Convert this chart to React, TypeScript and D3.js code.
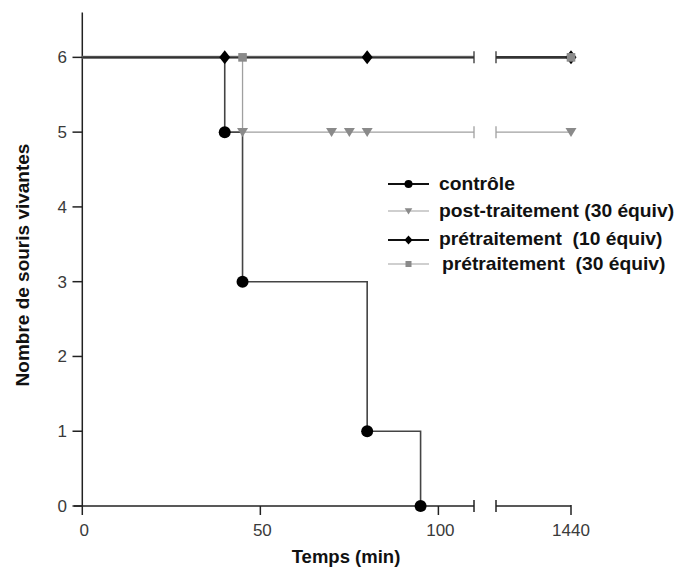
import React from "react";
import * as d3 from "d3";

// ---- data ----
const yTicks = [0, 1, 2, 3, 4, 5, 6];
const xTicksMain = [0, 50, 100];
const xTicksLate = [1440];

const controlTimes = [0, 40, 45, 80, 95];
const controlValues = [6, 5, 3, 1, 0];
const controlMarkTimes = [40, 45, 80, 95];
const controlMarkValues = [5, 3, 1, 0];

const postTimes = [0, 45];
const postValues = [6, 5];
const postMarkTimes = [45, 70, 75, 80, 1440];
const postMarkValues = [5, 5, 5, 5, 5];

const pre10Times = [0];
const pre10Values = [6];
const pre10MarkTimes = [40, 80, 1440];
const pre10MarkValues = [6, 6, 6];

const pre30Times = [0];
const pre30Values = [6];
const pre30MarkTimes = [45, 1440];
const pre30MarkValues = [6, 6];

const legendLabels = [
  "contrôle",
  "post-traitement (30 équiv)",
  "prétraitement  (10 équiv)",
  "prétraitement  (30 équiv)",
];

const mainEnd = 110;
const lateStart = 1418;
const lateEnd = 1440;

// ---- layout ----
const W = 678;
const H = 569;
const xMain = d3.scaleLinear().domain([0, mainEnd]).range([82.3, 474]);
const xLate = d3.scaleLinear().domain([lateStart, lateEnd]).range([496, 571]);
const y = d3.scaleLinear().domain([0, 6.6]).range([506, 12.5]);
const xAny = (t: number) => (t <= mainEnd ? xMain(t) : xLate(t));

const GRAY = "#8a8a8a";
const LGRAY = "#a0a0a0";

function stepPath(times: number[], values: number[], end: number) {
  const pts: [number, number][] = times.map((t, i) => [t, values[i]]);
  pts.push([end, values[values.length - 1]]);
  const line = d3
    .line<[number, number]>()
    .x((d) => xMain(d[0]))
    .y((d) => y(d[1]))
    .curve(d3.curveStepAfter);
  return line(pts) || "";
}

function Circle({ cx, cy, r }: { cx: number; cy: number; r: number }) {
  return <circle cx={cx} cy={cy} r={r} fill="#000" />;
}
function Tri({ cx, cy, s, fill }: { cx: number; cy: number; s: number; fill: string }) {
  const p = d3.path();
  p.moveTo(cx - s, cy - s * 0.75);
  p.lineTo(cx + s, cy - s * 0.75);
  p.lineTo(cx, cy + s * 0.9);
  p.closePath();
  return <path d={p.toString()} fill={fill} />;
}
function Diamond({ cx, cy, w, h, fill }: { cx: number; cy: number; w: number; h: number; fill: string }) {
  const p = d3.path();
  p.moveTo(cx, cy - h);
  p.lineTo(cx + w, cy);
  p.lineTo(cx, cy + h);
  p.lineTo(cx - w, cy);
  p.closePath();
  return <path d={p.toString()} fill={fill} />;
}
function Square({ cx, cy, s, fill }: { cx: number; cy: number; s: number; fill: string }) {
  return <rect x={cx - s} y={cy - s} width={2 * s} height={2 * s} fill={fill} />;
}

function BrokenLine({ v, color, width }: { v: number; color: string; width: number }) {
  const yy = y(v);
  return (
    <g stroke={color} strokeWidth={width} fill="none">
      <line x1={xMain(mainEnd)} x2={xMain(mainEnd)} y1={yy - 6} y2={yy + 6} strokeWidth={1.3} />
      <line x1={xLate(lateStart)} x2={xLate(lateStart)} y1={yy - 6} y2={yy + 6} strokeWidth={1.3} />
      <line x1={xLate(lateStart)} x2={xLate(lateEnd)} y1={yy} y2={yy} />
    </g>
  );
}

export default function App() {
  const font = "'Liberation Sans', Arial, sans-serif";
  const legendY = [184, 211, 240, 264];
  const legendText = [190, 217, 245, 270];
  return (
    <svg width={W} height={H} style={{ position: "absolute", left: 0, top: 0, background: "#fff" }} fontFamily={font}>
      <rect width={W} height={H} fill="#fff" />
      {/* axes */}
      <g stroke="#222" strokeWidth={1.5} fill="none">
        <line x1={xMain(0)} x2={xMain(0)} y1={y(6.6)} y2={y(0)} />
        {yTicks.map((t) => (
          <line key={"yt" + t} x1={72.5} x2={xMain(0)} y1={y(t)} y2={y(t)} />
        ))}
        <line x1={74} x2={xMain(mainEnd)} y1={y(0)} y2={y(0)} />
        <line x1={xMain(mainEnd)} x2={xMain(mainEnd)} y1={y(0) - 6} y2={y(0) + 6} />
        <line x1={xLate(lateStart)} x2={xLate(lateEnd)} y1={y(0)} y2={y(0)} />
        <line x1={xLate(lateStart)} x2={xLate(lateStart)} y1={y(0) - 6} y2={y(0) + 6} />
        {xTicksMain.map((t) => (
          <line key={"xt" + t} x1={xMain(t)} x2={xMain(t)} y1={y(0)} y2={y(0) + 9} />
        ))}
        {xTicksLate.map((t) => (
          <line key={"xl" + t} x1={xLate(t)} x2={xLate(t)} y1={y(0) - 1} y2={y(0) + 9} />
        ))}
      </g>
      <g fill="#3a3a3a" fontSize={17}>
        {yTicks.map((t) => (
          <text key={"yl" + t} x={67} y={y(t) + 6} textAnchor="end">
            {t}
          </text>
        ))}
        {xTicksMain.map((t) => (
          <text key={"xlab" + t} x={xMain(t) + 2} y={536} textAnchor="middle">
            {t}
          </text>
        ))}
        {xTicksLate.map((t) => (
          <text key={"xll" + t} x={xLate(t)} y={536} textAnchor="middle">
            {t}
          </text>
        ))}
      </g>
      <text x={346} y={563} textAnchor="middle" fontWeight="bold" fontSize={18.5} fill="#111">
        Temps (min)
      </text>
      <text
        transform={`translate(28.5,265) rotate(-90)`}
        textAnchor="middle"
        fontWeight="bold"
        fontSize={19}
        fill="#111"
      >
        Nombre de souris vivantes
      </text>

      {/* series lines */}
      <path d={stepPath(pre30Times, pre30Values, mainEnd)} stroke={GRAY} strokeWidth={3} fill="none" />
      <path d={stepPath(postTimes, postValues, mainEnd)} stroke={LGRAY} strokeWidth={1.3} fill="none" />
      <BrokenLine v={5} color={LGRAY} width={1.3} />
      <path d={stepPath(controlTimes, controlValues, 95)} stroke="#444" strokeWidth={1.6} fill="none" />
      <path d={stepPath(pre10Times, pre10Values, mainEnd)} stroke="#333" strokeWidth={1.8} fill="none" />
      <BrokenLine v={6} color="#333" width={2.6} />

      {/* markers */}
      {controlMarkTimes.map((t, i) => (
        <Circle key={"c" + i} cx={xAny(t)} cy={y(controlMarkValues[i])} r={6} />
      ))}
      {pre10MarkTimes.map((t, i) => (
        <Diamond key={"d" + i} cx={xAny(t)} cy={y(pre10MarkValues[i])} w={5.5} h={7} fill="#000" />
      ))}
      {postMarkTimes.map((t, i) => (
        <Tri key={"t" + i} cx={xAny(t)} cy={y(postMarkValues[i])} s={5.5} fill={GRAY} />
      ))}
      {pre30MarkTimes.map((t, i) => (
        <Square key={"s" + i} cx={xAny(t)} cy={y(pre30MarkValues[i])} s={4.3} fill={GRAY} />
      ))}

      {/* legend */}
      <g>
        <line x1={388} x2={429} y1={legendY[0]} y2={legendY[0]} stroke="#111" strokeWidth={2} />
        <Circle cx={408.5} cy={legendY[0]} r={4} />
        <line x1={388} x2={429} y1={legendY[1]} y2={legendY[1]} stroke={LGRAY} strokeWidth={1.2} />
        <Tri cx={408.5} cy={legendY[1]} s={3.8} fill={GRAY} />
        <line x1={388} x2={429} y1={legendY[2]} y2={legendY[2]} stroke="#111" strokeWidth={2} />
        <Diamond cx={408.5} cy={legendY[2]} w={4} h={4.5} fill="#000" />
        <line x1={388} x2={429} y1={legendY[3]} y2={legendY[3]} stroke={LGRAY} strokeWidth={1.2} />
        <Square cx={408.5} cy={legendY[3]} s={3} fill={GRAY} />
        {legendLabels.map((l, i) => (
          <text
            key={"lg" + i}
            transform={`translate(${i === 3 ? 442 : 439},${legendText[i]}) scale(1.1,1)`}
            fontWeight="bold"
            fontSize={17.5}
            fill="#111"
            style={{ whiteSpace: "pre" }}
          >
            {l}
          </text>
        ))}
      </g>
    </svg>
  );
}
